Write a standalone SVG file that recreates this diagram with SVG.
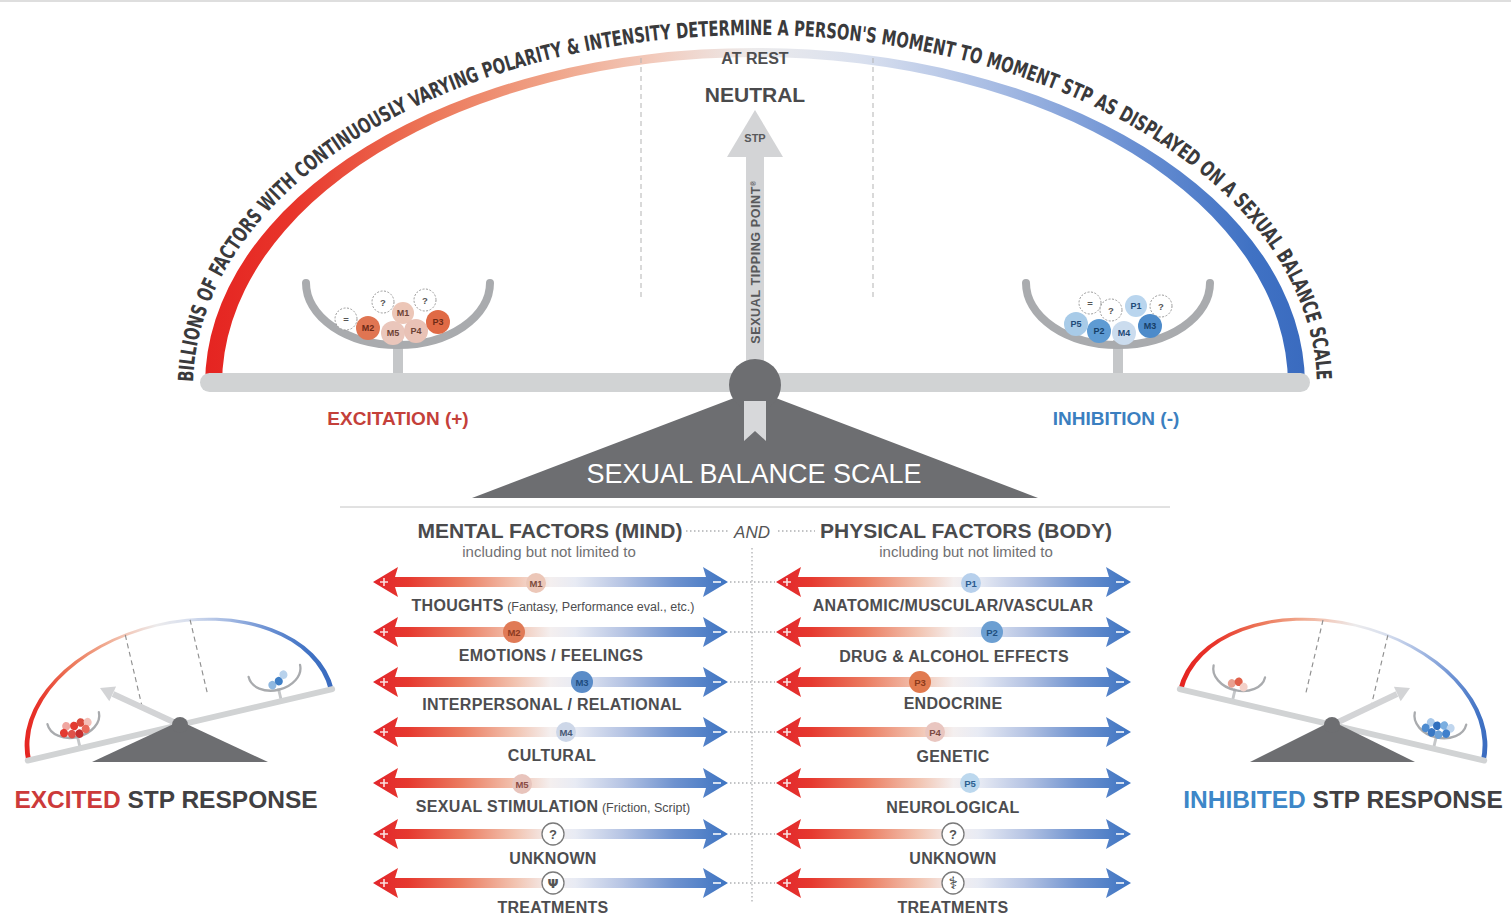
<svg xmlns="http://www.w3.org/2000/svg" xmlns:xlink="http://www.w3.org/1999/xlink" width="1511" height="916" viewBox="0 0 1511 916">
  <style>
    text { font-family: 'Liberation Sans', Arial, sans-serif; }
    .arcLabel { font-family: 'Liberation Sans Narrow', 'DejaVu Sans Condensed', 'Liberation Sans', sans-serif; font-stretch: condensed; font-weight: bold; font-size: 21px; fill: #3a3a3c; }
    .bowl { fill: none; stroke: #a9abae; stroke-width: 8; stroke-linecap: round; }
    .stem { fill: #c5c7c9; }
    .beam { fill: #d1d3d4; }
    .dark { fill: #6d6e71; }
    .guide { stroke: #b3b3b3; stroke-width: 1; stroke-dasharray: 5 4; fill: none; }
    .miniGuide { stroke: #8f8f8f; stroke-width: 4; stroke-dasharray: 16 12; fill: none; }
    .ballTxt { font-size: 9px; font-weight: bold; text-anchor: middle; }
    .qBall { fill: #fff; stroke: #9a9a9a; stroke-width: 1; stroke-dasharray: 2 1.5; }
    .qTxt { font-size: 9.5px; font-weight: bold; fill: #555; text-anchor: middle; }
    .hdr { font-size: 21px; font-weight: bold; fill: #4a4a4c; text-anchor: middle; }
    .inc { font-size: 15px; fill: #707072; text-anchor: middle; }
    .lbl { font-size: 16px; font-weight: bold; fill: #4d4d4f; text-anchor: middle; letter-spacing: 0.3px; }
    .sub { font-size: 12.5px; font-weight: normal; letter-spacing: 0; }
    .bdgTxt { font-size: 9.5px; font-weight: bold; text-anchor: middle; }
    .ring { fill: #fff; stroke: #7a7a7a; stroke-width: 1.3; }
    .dots { stroke: #aeb0b2; stroke-width: 1.3; stroke-dasharray: 1.5 2.5; fill: none; }
    .title { font-size: 24.5px; font-weight: bold; fill: #414042; text-anchor: middle; }
  </style>
  <defs>
    <linearGradient id="arcGrad" gradientUnits="userSpaceOnUse" x1="205" y1="0" x2="1305" y2="0">
      <stop offset="0" stop-color="#e52421"/>
      <stop offset="0.08" stop-color="#e8352b"/>
      <stop offset="0.2" stop-color="#ec7557"/>
      <stop offset="0.32" stop-color="#f0a68b"/>
      <stop offset="0.41" stop-color="#f2cbbd"/>
      <stop offset="0.5" stop-color="#ecebec"/>
      <stop offset="0.6" stop-color="#d8dfee"/>
      <stop offset="0.72" stop-color="#a6bbe3"/>
      <stop offset="0.84" stop-color="#6c91d3"/>
      <stop offset="0.95" stop-color="#4072c4"/>
      <stop offset="1" stop-color="#3a6bbf"/>
    </linearGradient>
    <linearGradient id="barGrad" x1="0" y1="0" x2="1" y2="0">
      <stop offset="0" stop-color="#e2252b"/>
      <stop offset="0.1" stop-color="#e6392f"/>
      <stop offset="0.25" stop-color="#eb7b60"/>
      <stop offset="0.4" stop-color="#f2c3b0"/>
      <stop offset="0.5" stop-color="#f4efef"/>
      <stop offset="0.57" stop-color="#e8ebf4"/>
      <stop offset="0.7" stop-color="#b7c5e4"/>
      <stop offset="0.85" stop-color="#6e92cf"/>
      <stop offset="1" stop-color="#3d74c2"/>
    </linearGradient>
    <path id="arcText" d="M193,388 A562,353 0 0 1 1317,388"/>
    <!-- scale frame: arc, pans and beam (main-scale coordinates) -->
    <g id="scaleFrame">
      <path d="M205,385 A550,337 0 0 1 1305,385 L1288,385 A533,328 0 0 0 222,385 Z" fill="url(#arcGrad)"/>
      <rect class="stem" x="393" y="340" width="10" height="36"/>
      <rect class="stem" x="1113" y="340" width="10" height="36"/>
      <path class="bowl" d="M306,283 A92,62 0 0 0 490,283"/>
      <path class="bowl" d="M1026,283 A92,62 0 0 0 1210,283"/>
      <rect class="beam" x="200" y="373" width="1110" height="19" rx="9.5"/>
    </g>
    <!-- double-headed factor arrow, 355 wide -->
    <g id="dbl">
      <path d="M0,0 L25,-15 L22,-5 L333,-5 L330,-15 L355,0 L330,15 L333,5 L22,5 L25,15 Z" fill="url(#barGrad)"/>
      <path d="M7,0 h8 M11,-4 v8" stroke="#fff" stroke-width="1.6" opacity="0.85"/>
      <path d="M340,0 h8" stroke="#fff" stroke-width="1.8" opacity="0.85"/>
    </g>
  </defs>

  <rect x="0" y="0" width="1511" height="916" fill="#fff"/>
  <rect x="0" y="0" width="1511" height="2" fill="#dedede"/>

  <!-- main balance scale -->
  <g id="balance-scale">
    <use href="#scaleFrame"/>
    <line class="guide" x1="641" y1="58" x2="641" y2="300"/>
    <line class="guide" x1="873" y1="58" x2="873" y2="300"/>
    <text class="arcLabel"><textPath href="#arcText" startOffset="6" textLength="1442" lengthAdjust="spacingAndGlyphs">BILLIONS OF FACTORS WITH CONTINUOUSLY VARYING POLARITY &amp; INTENSITY DETERMINE A PERSON'S MOMENT TO MOMENT STP AS DISPLAYED ON A SEXUAL BALANCE SCALE</textPath></text>
    <text x="755" y="64" text-anchor="middle" font-size="16" font-weight="bold" fill="#4d4d4f">AT REST</text>
    <text x="755" y="102" text-anchor="middle" font-size="21" font-weight="bold" fill="#4a4a4c">NEUTRAL</text>

    <!-- tipping point arrow -->
    <rect x="746" y="150" width="18" height="225" fill="#d3d4d6"/>
    <polygon points="727,157 755,110 783,157" fill="#d3d4d6"/>
    <text x="755" y="142" text-anchor="middle" font-size="11" font-weight="bold" fill="#58595b">STP</text>
    <text transform="translate(760,262) rotate(-90)" text-anchor="middle" font-size="12.5" font-weight="bold" fill="#58595b" letter-spacing="0.6">SEXUAL TIPPING POINT<tspan font-size="7" dy="-4">®</tspan></text>

    <!-- excitation pan contents -->
    <g id="pan-excitation">
      <circle class="qBall" cx="383" cy="302" r="11"/><text class="qTxt" x="383" y="305.5">?</text>
      <circle class="qBall" cx="425" cy="300" r="11"/><text class="qTxt" x="425" y="303.5">?</text>
      <circle cx="403" cy="313" r="11" fill="#ecc6b7"/><text class="ballTxt" x="403" y="316" fill="#6e4336">M1</text>
      <circle class="qBall" cx="346" cy="319" r="11"/><text class="qTxt" x="346" y="322.5">=</text>
      <circle cx="368" cy="328" r="12" fill="#e07552"/><text class="ballTxt" x="368" y="331" fill="#6e2a16">M2</text>
      <circle cx="393" cy="333" r="12" fill="#eac6bb"/><text class="ballTxt" x="393" y="336" fill="#6e4336">M5</text>
      <circle cx="416" cy="331" r="12" fill="#e9c2b6"/><text class="ballTxt" x="416" y="334" fill="#6e4336">P4</text>
      <circle cx="438" cy="322" r="12" fill="#e06a45"/><text class="ballTxt" x="438" y="325" fill="#6e2a16">P3</text>
    </g>
    <!-- inhibition pan contents -->
    <g id="pan-inhibition">
      <circle class="qBall" cx="1090" cy="303" r="11"/><text class="qTxt" x="1090" y="306.5">=</text>
      <circle class="qBall" cx="1111" cy="310" r="11"/><text class="qTxt" x="1111" y="313.5">?</text>
      <circle cx="1136" cy="306" r="11" fill="#b9d5ee"/><text class="ballTxt" x="1136" y="309" fill="#1e4a78">P1</text>
      <circle class="qBall" cx="1161" cy="306" r="11"/><text class="qTxt" x="1161" y="309.5">?</text>
      <circle cx="1076" cy="324" r="12" fill="#a8cbe8"/><text class="ballTxt" x="1076" y="327" fill="#1e4a78">P5</text>
      <circle cx="1099" cy="331" r="12" fill="#5e9bd3"/><text class="ballTxt" x="1099" y="334" fill="#173f68">P2</text>
      <circle cx="1124" cy="333" r="12" fill="#cbdcee"/><text class="ballTxt" x="1124" y="336" fill="#1e4a78">M4</text>
      <circle cx="1150" cy="326" r="12" fill="#4d8bca"/><text class="ballTxt" x="1150" y="329" fill="#173f68">M3</text>
    </g>

    <!-- fulcrum -->
    <polygon class="dark" points="755,390 472,498 1038,498"/>
    <circle class="dark" cx="755" cy="385" r="26"/>
    <path d="M744,401 h22 v40 l-11,-10 l-11,10 z" fill="#d7d8da"/>
    <text x="754" y="483" text-anchor="middle" font-size="27" fill="#ffffff">SEXUAL BALANCE SCALE</text>

    <text x="398" y="425" text-anchor="middle" font-size="19" font-weight="bold" fill="#c4403a">EXCITATION (+)</text>
    <text x="1116" y="425" text-anchor="middle" font-size="19" font-weight="bold" fill="#3b7fc0">INHIBITION (-)</text>
    <line x1="340" y1="507" x2="1170" y2="507" stroke="#c4c4c4" stroke-width="1"/>
  </g>

  <!-- dotted connectors between the two factor columns -->
  <g id="connectors">
    <line class="dots" x1="686" y1="531" x2="728" y2="531"/>
    <line class="dots" x1="778" y1="531" x2="815" y2="531"/>
    <line class="dots" x1="752" y1="548" x2="752" y2="903"/>
    <line class="dots" x1="730" y1="582" x2="775" y2="582"/>
    <line class="dots" x1="730" y1="632" x2="775" y2="632"/>
    <line class="dots" x1="730" y1="682" x2="775" y2="682"/>
    <line class="dots" x1="730" y1="732" x2="775" y2="732"/>
    <line class="dots" x1="730" y1="783" x2="775" y2="783"/>
    <line class="dots" x1="730" y1="834" x2="775" y2="834"/>
    <line class="dots" x1="730" y1="883" x2="775" y2="883"/>
  </g>

  <!-- headers -->
  <g id="headers">
    <text class="hdr" x="550" y="538">MENTAL FACTORS (MIND)</text>
    <text class="inc" x="549" y="557">including but not limited to</text>
    <text x="752" y="538" text-anchor="middle" font-size="17" font-style="italic" fill="#555">AND</text>
    <text class="hdr" x="966" y="538">PHYSICAL FACTORS (BODY)</text>
    <text class="inc" x="966" y="557">including but not limited to</text>
  </g>

  <!-- mental factors -->
  <g id="mental-factors">
    <g id="m1">
      <use href="#dbl" x="373" y="582"/>
      <circle cx="536" cy="583" r="10" fill="#ecc7b8"/><text class="bdgTxt" x="536" y="586.5" fill="#7b4b3c">M1</text>
      <text class="lbl" x="553" y="611">THOUGHTS<tspan class="sub"> (Fantasy, Performance eval., etc.)</tspan></text>
    </g>
    <g id="m2">
      <use href="#dbl" x="373" y="632"/>
      <circle cx="514" cy="632" r="11" fill="#e07a56"/><text class="bdgTxt" x="514" y="635.5" fill="#8d3b22">M2</text>
      <text class="lbl" x="551" y="661">EMOTIONS / FEELINGS</text>
    </g>
    <g id="m3">
      <use href="#dbl" x="373" y="682"/>
      <circle cx="582" cy="682" r="11" fill="#5a8cc8"/><text class="bdgTxt" x="582" y="685.5" fill="#1e4c80">M3</text>
      <text class="lbl" x="552" y="710">INTERPERSONAL / RELATIONAL</text>
    </g>
    <g id="m4">
      <use href="#dbl" x="373" y="732"/>
      <circle cx="566" cy="732" r="10" fill="#cdd7e8"/><text class="bdgTxt" x="566" y="735.5" fill="#4a5a75">M4</text>
      <text class="lbl" x="552" y="761">CULTURAL</text>
    </g>
    <g id="m5">
      <use href="#dbl" x="373" y="783"/>
      <circle cx="522" cy="784" r="10" fill="#e8c4bc"/><text class="bdgTxt" x="522" y="787.5" fill="#8b4b45">M5</text>
      <text class="lbl" x="553" y="812">SEXUAL STIMULATION<tspan class="sub">  (Friction, Script)</tspan></text>
    </g>
    <g id="m-unknown">
      <use href="#dbl" x="373" y="834"/>
      <circle class="ring" cx="553" cy="834" r="11"/><text x="553" y="839" text-anchor="middle" font-size="13" font-weight="bold" fill="#555">?</text>
      <text class="lbl" x="553" y="864">UNKNOWN</text>
    </g>
    <g id="m-treatments">
      <use href="#dbl" x="373" y="883"/>
      <circle class="ring" cx="553" cy="883" r="11"/><text x="553" y="888" text-anchor="middle" font-size="13" font-weight="bold" fill="#555" style="font-family:'DejaVu Sans',sans-serif">Ψ</text>
      <text class="lbl" x="553" y="913">TREATMENTS</text>
    </g>
  </g>

  <!-- physical factors -->
  <g id="physical-factors">
    <g id="p1">
      <use href="#dbl" x="776" y="582"/>
      <circle cx="971" cy="583" r="10" fill="#b7d0ec"/><text class="bdgTxt" x="971" y="586.5" fill="#2b5c90">P1</text>
      <text class="lbl" x="953" y="611">ANATOMIC/MUSCULAR/VASCULAR</text>
    </g>
    <g id="p2">
      <use href="#dbl" x="776" y="632"/>
      <circle cx="992" cy="632" r="11" fill="#6c9fd2"/><text class="bdgTxt" x="992" y="635.5" fill="#20507f">P2</text>
      <text class="lbl" x="954" y="662">DRUG &amp; ALCOHOL EFFECTS</text>
    </g>
    <g id="p3">
      <use href="#dbl" x="776" y="682"/>
      <circle cx="920" cy="682" r="11" fill="#e17a4f"/><text class="bdgTxt" x="920" y="685.5" fill="#8d3b1c">P3</text>
      <text class="lbl" x="953" y="709">ENDOCRINE</text>
    </g>
    <g id="p4">
      <use href="#dbl" x="776" y="732"/>
      <circle cx="935" cy="732" r="10" fill="#e9c6c0"/><text class="bdgTxt" x="935" y="735.5" fill="#7b4a45">P4</text>
      <text class="lbl" x="953" y="762">GENETIC</text>
    </g>
    <g id="p5">
      <use href="#dbl" x="776" y="783"/>
      <circle cx="970" cy="783" r="10" fill="#bcd8ee"/><text class="bdgTxt" x="970" y="786.5" fill="#2b6090">P5</text>
      <text class="lbl" x="953" y="813">NEUROLOGICAL</text>
    </g>
    <g id="p-unknown">
      <use href="#dbl" x="776" y="834"/>
      <circle class="ring" cx="953" cy="834" r="11"/><text x="953" y="839" text-anchor="middle" font-size="13" font-weight="bold" fill="#555">?</text>
      <text class="lbl" x="953" y="864">UNKNOWN</text>
    </g>
    <g id="p-treatments">
      <use href="#dbl" x="776" y="883"/>
      <circle class="ring" cx="953" cy="883" r="11"/><text x="953" y="889" text-anchor="middle" font-size="17" font-weight="bold" fill="#333" style="font-family:'DejaVu Sans',sans-serif">⚕</text>
      <text class="lbl" x="953" y="913">TREATMENTS</text>
    </g>
  </g>

  <!-- excited response: scale tipped toward excitation -->
  <g id="excited-response">
    <g transform="translate(180,725) rotate(-13.2) scale(0.287,0.31) translate(-755,-383)">
      <use href="#scaleFrame"/>
      <line class="miniGuide" x1="641" y1="60" x2="641" y2="300"/>
      <line class="miniGuide" x1="873" y1="60" x2="873" y2="300"/>
      <circle cx="368" cy="303" r="14" fill="#f0a6a0"/>
      <circle cx="395" cy="308" r="14" fill="#e33a30"/>
      <circle cx="420" cy="302" r="14" fill="#d94b3c"/>
      <circle cx="444" cy="306" r="14" fill="#f3c0b8"/>
      <circle cx="355" cy="323" r="14" fill="#e33a30"/>
      <circle cx="381" cy="332" r="14" fill="#e0524a"/>
      <circle cx="407" cy="336" r="14" fill="#c62f2f"/>
      <circle cx="432" cy="326" r="14" fill="#ea6a5a"/>
      <circle cx="1100" cy="326" r="14" fill="#8fb8e0"/>
      <circle cx="1125" cy="318" r="14" fill="#3f7fc6"/>
      <circle cx="1146" cy="301" r="14" fill="#b8d2ec"/>
    </g>
    <polygon class="dark" points="180,721 92,762 268,762"/>
    <line x1="180" y1="725" x2="113" y2="694" stroke="#d3d4d6" stroke-width="6"/>
    <polygon points="100,688 116.1,686.6 109.3,701.2" fill="#d3d4d6"/>
    <circle class="dark" cx="180" cy="725" r="8"/>
    <text class="title" x="166" y="808"><tspan fill="#cc3a3a">EXCITED</tspan> STP RESPONSE</text>
  </g>

  <!-- inhibited response: scale tipped toward inhibition -->
  <g id="inhibited-response">
    <g transform="translate(1332,725) rotate(13.2) scale(0.287,0.31) translate(-755,-383)">
      <use href="#scaleFrame"/>
      <line class="miniGuide" x1="641" y1="60" x2="641" y2="300"/>
      <line class="miniGuide" x1="873" y1="60" x2="873" y2="300"/>
      <circle cx="382" cy="326" r="14" fill="#e8a090"/>
      <circle cx="404" cy="316" r="14" fill="#e0604a"/>
      <circle cx="425" cy="329" r="14" fill="#f3d0c8"/>
      <circle cx="1088" cy="302" r="14" fill="#a8c8ea"/>
      <circle cx="1112" cy="308" r="14" fill="#2f6fbf"/>
      <circle cx="1136" cy="302" r="14" fill="#7aaee0"/>
      <circle cx="1160" cy="306" r="14" fill="#c0d6ee"/>
      <circle cx="1075" cy="323" r="14" fill="#4d8bd0"/>
      <circle cx="1099" cy="333" r="14" fill="#3a78c4"/>
      <circle cx="1124" cy="335" r="14" fill="#6aa0d8"/>
      <circle cx="1149" cy="326" r="14" fill="#3f80cc"/>
    </g>
    <polygon class="dark" points="1332,721 1250,762 1415,762"/>
    <line x1="1332" y1="725" x2="1397" y2="694" stroke="#d3d4d6" stroke-width="6"/>
    <polygon points="1410,688 1400.7,701.2 1393.9,686.8" fill="#d3d4d6"/>
    <circle class="dark" cx="1332" cy="725" r="8"/>
    <text class="title" x="1343" y="808"><tspan fill="#3d87c8">INHIBITED</tspan> STP RESPONSE</text>
  </g>
</svg>
